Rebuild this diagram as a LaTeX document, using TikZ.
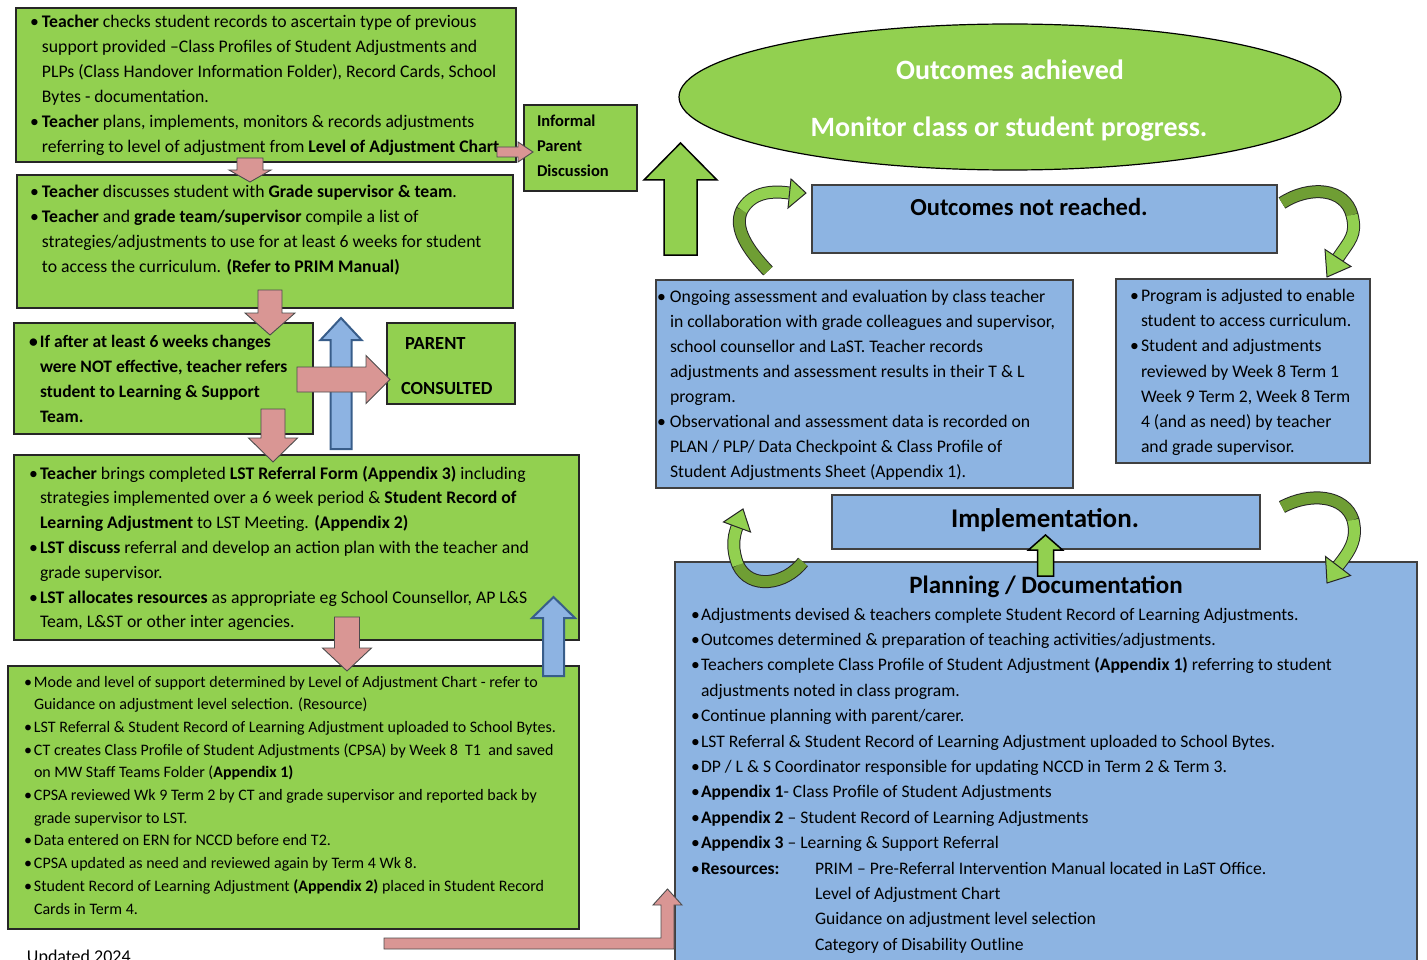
\documentclass[tikz,border=0pt]{standalone}
\usepackage{fontspec}
\setmainfont{Carlito}
\usetikzlibrary{shapes.geometric}
\definecolor{gfill}{HTML}{92D050}
\definecolor{bfill}{HTML}{8DB4E2}
\definecolor{pfill}{HTML}{D99694}
\definecolor{barfill}{HTML}{8DB3E2}
\definecolor{barline}{HTML}{385D8A}
\definecolor{cdark}{HTML}{6F9E34}
\definecolor{clight}{HTML}{92D050}
\newlength\bw
\newcommand\bul{\makebox[\bw][l]{\textbullet}}
\newcommand\ind{\hspace*{\bw}}
\newcommand\lines[1]{\begin{tabular}[t]{@{}l@{}}#1\end{tabular}}
% vertical block arrow: style, xc, ytail, ytip, half shaft, half head, head length
\newcommand\varr[7]{%
  \pgfmathsetmacro\myhb{#4-sign(#4-#3)*#7}%
  \filldraw[#1] ({#2-#5},#3) -- ({#2-#5},\myhb) -- ({#2-#6},\myhb) -- (#2,#4) -- ({#2+#6},\myhb) -- ({#2+#5},\myhb) -- ({#2+#5},#3) -- cycle;}
% horizontal block arrow: style, yc, xtail, xtip, half shaft, half head, head length
\newcommand\harr[7]{%
  \pgfmathsetmacro\myhb{#4-sign(#4-#3)*#7}%
  \filldraw[#1] (#3,{#2-#5}) -- (\myhb,{#2-#5}) -- (\myhb,{#2-#6}) -- (#4,#2) -- (\myhb,{#2+#6}) -- (\myhb,{#2+#5}) -- (#3,{#2+#5}) -- cycle;}
\begin{document}
\begin{tikzpicture}[x=1pt,y=-1pt,
  gbox/.style={draw=black!85, line width=1.2pt, fill=gfill, anchor=north west, inner sep=0, outer sep=0},
  bbox/.style={draw=black!75, line width=1.2pt, fill=bfill, anchor=north west, inner sep=0, outer sep=0},
  txt/.style n args={3}{anchor=base west, inner sep=0, outer sep=0, font={\fontsize{#1}{#2}\selectfont\setlength{\bw}{#3pt}}},
  txtb/.style n args={3}{anchor=base west, inner sep=0, outer sep=0, font={\fontsize{#1}{#2}\selectfont\bfseries\setlength{\bw}{#3pt}}},
  ttl/.style={anchor=base, inner sep=0, outer sep=0, font=\fontsize{#1}{#1}\selectfont\bfseries},
  parr/.style={fill=pfill, draw=black!70, line width=0.9pt},
  barr/.style={fill=barfill, draw=barline, line width=2pt},
  garr/.style={fill=gfill, draw=black, line width=1.5pt},
  cout/.style={draw=black!85, line width=13pt},
  cin/.style={line width=11pt}]
\useasboundingbox (0,0) rectangle (1427,960);
\clip (0,0) rectangle (1427,960);

% ---------- left column boxes ----------
\node[gbox, minimum width=500, minimum height=154] (b1) at (16,8) {};
\node[txt={17.7}{25}{12}] (t1) at (30,27.5) {\lines{%
\bul\textbf{Teacher} checks student records to ascertain type of previous\\
\ind support provided –Class Profiles of Student Adjustments and\\
\ind PLPs (Class Handover Information Folder), Record Cards, School\\
\ind Bytes - documentation.\\
\bul\textbf{Teacher} plans, implements, monitors \& records adjustments\\
\ind referring to level of adjustment from \textbf{Level of Adjustment Chart}}};

\node[gbox, minimum width=113, minimum height=86] (inf) at (524,105) {};
\node[txtb={16.5}{25}{0}] (tinf) at (537,127) {\lines{Informal\\Parent\\Discussion}};

\node[gbox, minimum width=496, minimum height=133] (b2) at (17,175) {};
\node[txt={17.7}{25}{12}] (t2) at (30,198) {\lines{%
\bul\textbf{Teacher} discusses student with \textbf{Grade supervisor \& team}.\\
\bul\textbf{Teacher} and \textbf{grade team/supervisor} compile a list of\\
\ind strategies/adjustments to use for at least 6 weeks for student\\
\ind to access the curriculum. \textbf{(Refer to PRIM Manual)}}};

\node[gbox, minimum width=299, minimum height=111] (b3) at (14,323) {};
\node[txtb={17.5}{25}{11}] (t3) at (29,347) {\lines{%
\bul If after at least 6 weeks changes\\
\ind were NOT effective, teacher refers\\
\ind student to Learning \& Support\\
\ind Team.}};

\node[gbox, minimum width=128, minimum height=81] (par) at (387,323) {};
\node[txtb={18.5}{45}{0}] (tpar) at (401,349.5) {\lines{\hspace*{4pt}PARENT\\CONSULTED}};

\node[gbox, minimum width=565, minimum height=185] (b4) at (14,455) {};
\node[txt={17.7}{24.8}{11}] (t4) at (29,479) {\lines{%
\bul\textbf{Teacher} brings completed \textbf{LST Referral Form (Appendix 3)} including\\
\ind strategies implemented over a 6 week period \& \textbf{Student Record of}\\
\ind\textbf{Learning Adjustment} to LST Meeting. \textbf{(Appendix 2)}\\
\bul\textbf{LST discuss} referral and develop an action plan with the teacher and\\
\ind grade supervisor.\\
\bul\textbf{LST allocates resources} as appropriate eg School Counsellor, AP L\&S\\
\ind Team, L\&ST or other inter agencies.}};

\node[gbox, minimum width=571, minimum height=263] (b5) at (8,666) {};
\node[txt={16}{22.7}{10}] (t5) at (24,687) {\lines{%
\bul Mode and level of support determined by Level of Adjustment Chart - refer to\\
\ind Guidance on adjustment level selection. (Resource)\\
\bul LST Referral \& Student Record of Learning Adjustment uploaded to School Bytes.\\
\bul CT creates Class Profile of Student Adjustments (CPSA) by Week 8~~T1~~and saved\\
\ind on MW Staff Teams Folder (\textbf{Appendix 1)}\\
\bul CPSA reviewed Wk 9 Term 2 by CT and grade supervisor and reported back by\\
\ind grade supervisor to LST.\\
\bul Data entered on ERN for NCCD before end T2.\\
\bul CPSA updated as need and reviewed again by Term 4 Wk 8.\\
\bul Student Record of Learning Adjustment \textbf{(Appendix 2)} placed in Student Record\\
\ind Cards in Term 4.}};

\node[txt={18}{18}{0}] (upd) at (27,962) {Updated 2024};

% ---------- right column ----------
\node[ellipse, draw=black, line width=1.2pt, fill=gfill, minimum width=662, minimum height=146, inner sep=0] (ell) at (1010,97) {};
\node[ttl=28, text=white] (e1) at (1010,80) {Outcomes achieved};
\node[ttl=28, text=white] (e2) at (1009,137) {Monitor class or student progress.};

\node[bbox, minimum width=465, minimum height=68] (onr) at (812,185) {};
\node[ttl=24.5] (tonr) at (1029,216) {Outcomes not reached.};

\node[bbox, minimum width=417, minimum height=208] (bA) at (656,280) {};
\node[txt={17.7}{25}{13}] (tA) at (657,302.5) {\lines{%
\bul Ongoing assessment and evaluation by class teacher\\
\ind in collaboration with grade colleagues and supervisor,\\
\ind school counsellor and LaST. Teacher records\\
\ind adjustments and assessment results in their T \& L\\
\ind program.\\
\bul Observational and assessment data is recorded on\\
\ind PLAN / PLP/ Data Checkpoint \& Class Profile of\\
\ind Student Adjustments Sheet (Appendix 1).}};

\node[bbox, minimum width=254, minimum height=184] (bB) at (1116,279) {};
\node[txt={17.7}{25.2}{11}] (tB) at (1130,301.5) {\lines{%
\bul Program is adjusted to enable\\
\ind student to access curriculum.\\
\bul Student and adjustments\\
\ind reviewed by Week 8 Term 1\\
\ind Week 9 Term 2, Week 8 Term\\
\ind 4 (and as need) by teacher\\
\ind and grade supervisor.}};

\node[bbox, minimum width=428, minimum height=54] (imp) at (832,495) {};
\node[ttl=27] (timp) at (1045,527) {Implementation.};

\node[bbox, minimum width=742, minimum height=410] (plan) at (675,562) {};
\node[ttl=25] (tplan) at (1046,593) {Planning / Documentation};
\node[txt={17.6}{25.4}{10}] (tP) at (691,620) {\lines{%
\bul Adjustments devised \& teachers complete Student Record of Learning Adjustments.\\
\bul Outcomes determined \& preparation of teaching activities/adjustments.\\
\bul Teachers complete Class Profile of Student Adjustment \textbf{(Appendix 1)} referring to student\\
\ind adjustments noted in class program.\\
\bul Continue planning with parent/carer.\\
\bul LST Referral \& Student Record of Learning Adjustment uploaded to School Bytes.\\
\bul DP / L \& S Coordinator responsible for updating NCCD in Term 2 \& Term 3.\\
\bul\textbf{Appendix 1}- Class Profile of Student Adjustments\\
\bul\textbf{Appendix 2} – Student Record of Learning Adjustments\\
\bul\textbf{Appendix 3} – Learning \& Support Referral\\
\bul\makebox[114pt][l]{\textbf{Resources:}}PRIM – Pre-Referral Intervention Manual located in LaST Office.\\
\ind\hspace*{114pt}Level of Adjustment Chart\\
\ind\hspace*{114pt}Guidance on adjustment level selection\\
\ind\hspace*{114pt}Category of Disability Outline}};

% ---------- block arrows ----------
\varr{barr}{341}{449}{318}{10.5}{20.5}{22}
\varr{barr}{553.5}{676}{597}{10.5}{21.5}{21}
\varr{parr}{250}{158}{182}{13}{21}{12}
\harr{parr}{152}{497}{533}{5}{10}{15}
\varr{parr}{270}{290}{335}{12}{25}{22}
\harr{parr}{379.5}{297}{390}{12.5}{24}{24}
\varr{parr}{273}{409}{462}{12}{24.5}{24}
\varr{parr}{347}{617}{671}{12.5}{24.5}{23}
\filldraw[parr] (384,938) -- (661,938) -- (661,905) -- (653,905) -- (667.5,889) -- (682,905) -- (674,905) -- (674,949) -- (384,949) -- cycle;
\varr{garr}{680.5}{255}{143}{16.5}{36.5}{37}
\varr{garr}{1045.5}{576}{535}{8}{17}{15}

% ---------- curved arrows ----------
% top left
\draw[cout] (768,271) .. controls (748,250) and (733,228) .. (742,210) .. controls (751,194) and (768,190) .. (789,193);
\draw[cin, cdark] (768,271) .. controls (748,250) and (733,228) .. (742,210);
\draw[cin, clight] (742,210) .. controls (751,194) and (768,190) .. (789,193);
\filldraw[fill=clight, draw=black!85, line width=1pt] (791,179) -- (806,193) -- (788,208) -- cycle;
% top right
\draw[cout] (1282,203) .. controls (1310,185) and (1345,188) .. (1352,215) .. controls (1357,235) and (1350,240) .. (1338,258);
\draw[cin, cdark] (1282,203) .. controls (1310,185) and (1345,188) .. (1352,215);
\draw[cin, clight] (1352,215) .. controls (1357,235) and (1350,240) .. (1338,258);
\filldraw[fill=clight, draw=black!85, line width=1pt] (1351,266.5) -- (1327,277) -- (1325,249.5) -- cycle;
% bottom left
\draw[cout] (803,562) .. controls (785,585) and (750,590) .. (738,565) .. controls (732,550) and (733,538) .. (737,527);
\draw[cin, cdark] (803,562) .. controls (785,585) and (750,590) .. (738,565);
\draw[cin, clight] (738,565) .. controls (732,550) and (733,538) .. (737,527);
\filldraw[fill=clight, draw=black!85, line width=1pt] (750.5,532) -- (743,509) -- (723.5,522) -- cycle;
% bottom right
\draw[cout] (1282,507) .. controls (1310,492) and (1345,495) .. (1353,520) .. controls (1358,540) and (1349,552) .. (1338,566);
\draw[cin, cdark] (1282,507) .. controls (1310,492) and (1345,495) .. (1353,520);
\draw[cin, clight] (1353,520) .. controls (1358,540) and (1349,552) .. (1338,566);
\filldraw[fill=clight, draw=black!85, line width=1pt] (1350.5,575.5) -- (1327,583) -- (1325.5,556.5) -- cycle;
\end{tikzpicture}
\end{document}
